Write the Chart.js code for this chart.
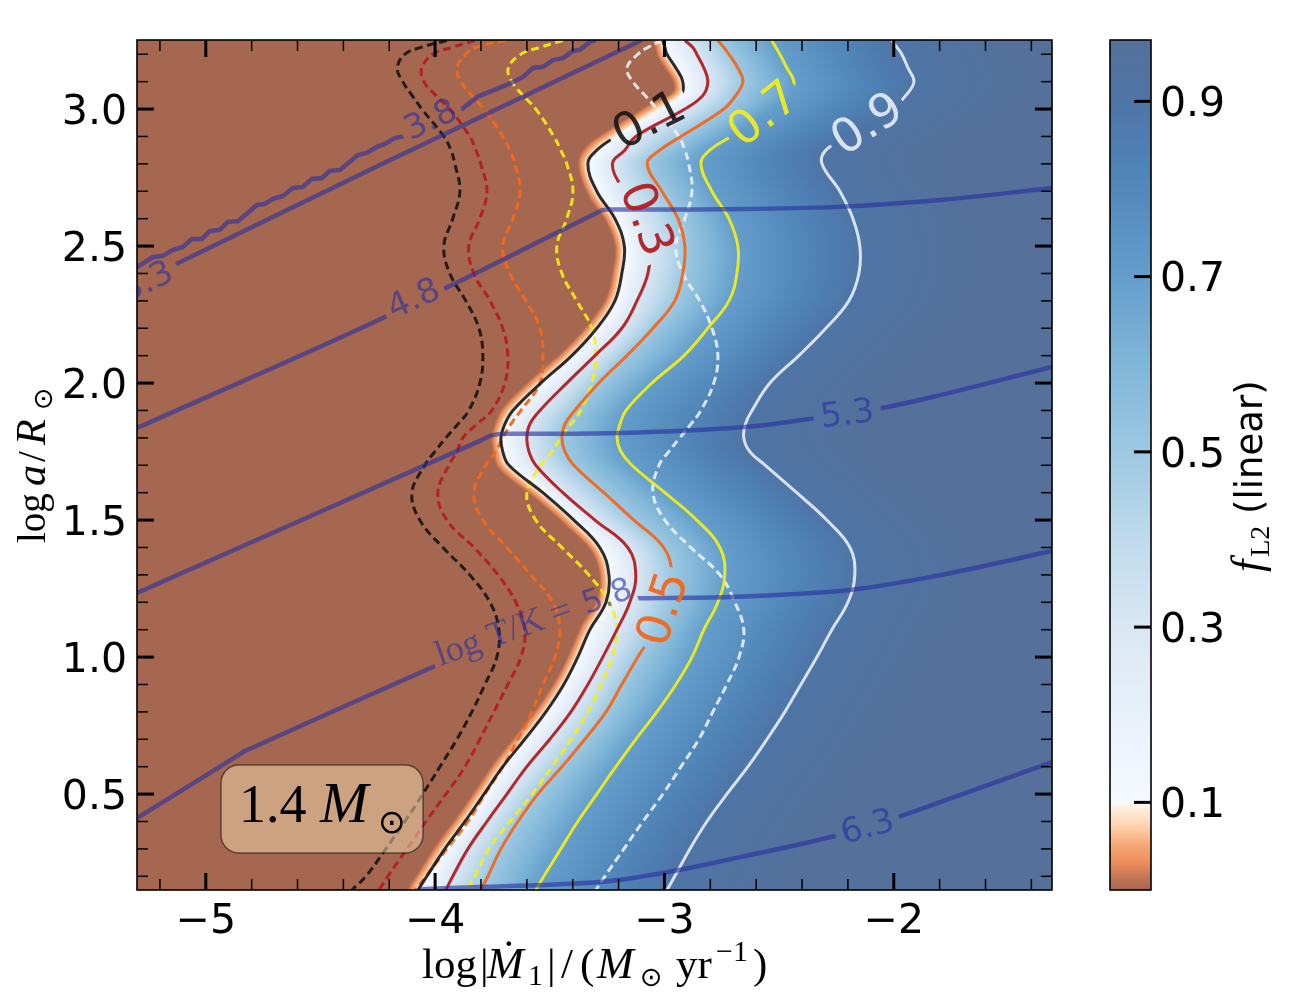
<!DOCTYPE html>
<html><head><meta charset="utf-8">
<script src="https://cdn.jsdelivr.net/npm/chart.js@4"></script>
<style>
html,body{margin:0;padding:0;background:#fff;width:1300px;height:1000px;overflow:hidden}
canvas{position:absolute;top:0;display:block}
</style></head><body>
<canvas id="main" width="1300" height="1000" style="left:0"></canvas>
<canvas id="bar" width="210" height="1000" style="left:1090px"></canvas>
<script>
// ---------- axes ----------
const xTicks=[-5,-4,-3,-2];
const yTicks=[0.5,1.0,1.5,2.0,2.5,3.0];
const xMinor=[-5.2,-4.8,-4.6,-4.4,-4.2,-3.8,-3.6,-3.4,-3.2,-2.8,-2.6,-2.4,-2.2,-1.8,-1.6,-1.4];
const yMinor=[0.2,0.3,0.4,0.6,0.7,0.8,0.9,1.1,1.2,1.3,1.4,1.6,1.7,1.8,1.9,2.1,2.2,2.3,2.4,2.6,2.7,2.8,2.9,3.1,3.2];
const barTicks=[0.1,0.3,0.5,0.7,0.9];

// ---------- shared y levels of the f_L2 contours (log a/Rsun) ----------
const yLevels=[3.25,3.225,3.2,3.15,3.1,3.05,3.0,2.9,2.85,2.8,2.7,2.6,2.5,2.4,2.3,2.2,2.1,2.0,1.9,1.85,1.8,1.75,1.7,1.6,1.5,1.4,1.3,1.2,1.1,1.0,0.9,0.8,0.7,0.6,0.5,0.4,0.3,0.2,0.15];

// ---------- solid contours: log|Mdot| at each y level ----------
const solid01=[-3.007,-2.998,-2.989,-2.950,-2.920,-2.928,-3.020,-3.212,-3.295,-3.334,-3.295,-3.216,-3.175,-3.186,-3.216,-3.295,-3.404,-3.539,-3.661,-3.696,-3.713,-3.705,-3.678,-3.530,-3.395,-3.282,-3.242,-3.255,-3.325,-3.378,-3.439,-3.517,-3.609,-3.705,-3.787,-3.870,-3.958,-4.036,-4.075];
const solid03=[-2.911,-2.876,-2.859,-2.828,-2.811,-2.832,-2.911,-3.125,-3.173,-3.227,-3.177,-3.107,-3.064,-3.072,-3.120,-3.186,-3.303,-3.426,-3.543,-3.587,-3.600,-3.591,-3.561,-3.443,-3.303,-3.160,-3.125,-3.151,-3.207,-3.269,-3.334,-3.408,-3.500,-3.600,-3.687,-3.774,-3.857,-3.923,-3.953];
const solid05=[-2.767,-2.741,-2.719,-2.680,-2.658,-2.689,-2.741,-2.928,-3.020,-3.075,-3.011,-2.941,-2.911,-2.920,-2.955,-3.050,-3.164,-3.286,-3.391,-3.434,-3.447,-3.434,-3.395,-3.264,-3.133,-3.003,-2.968,-2.989,-3.042,-3.116,-3.186,-3.255,-3.347,-3.447,-3.552,-3.639,-3.713,-3.770,-3.801];
const solid07=[-2.532,-2.514,-2.497,-2.466,-2.436,-2.453,-2.532,-2.710,-2.802,-2.841,-2.793,-2.719,-2.680,-2.684,-2.719,-2.811,-2.915,-3.055,-3.168,-3.194,-3.207,-3.190,-3.142,-2.998,-2.859,-2.758,-2.737,-2.767,-2.828,-2.880,-2.950,-3.033,-3.125,-3.212,-3.295,-3.378,-3.452,-3.526,-3.561];
const solid09=[-2.008,-1.986,-1.965,-1.938,-1.912,-1.947,-2.008,-2.200,-2.296,-2.313,-2.235,-2.178,-2.148,-2.152,-2.196,-2.296,-2.414,-2.540,-2.618,-2.647,-2.654,-2.628,-2.560,-2.423,-2.292,-2.191,-2.170,-2.200,-2.270,-2.335,-2.405,-2.475,-2.553,-2.636,-2.728,-2.815,-2.889,-2.955,-2.989];

// ---------- dashed contours ----------
const dash01=[-3.949,-4.062,-4.132,-4.165,-4.141,-4.101,-4.058,-3.962,-3.931,-3.914,-3.892,-3.923,-3.962,-3.936,-3.866,-3.809,-3.792,-3.805,-3.853,-3.901,-3.953,-4.001,-4.045,-4.101,-4.067,-3.966,-3.849,-3.761,-3.722,-3.731,-3.783,-3.840,-3.905,-3.979,-4.054,-4.132,-4.215,-4.302,-4.363];
const dash03=[-3.827,-3.927,-4.010,-4.058,-4.049,-3.997,-3.936,-3.849,-3.822,-3.801,-3.774,-3.805,-3.853,-3.831,-3.761,-3.705,-3.683,-3.696,-3.753,-3.818,-3.879,-3.905,-3.940,-3.988,-3.949,-3.831,-3.726,-3.648,-3.609,-3.626,-3.683,-3.744,-3.805,-3.870,-3.953,-4.040,-4.123,-4.206,-4.245];
const dash05=[-3.692,-3.822,-3.866,-3.905,-3.888,-3.840,-3.787,-3.705,-3.674,-3.652,-3.630,-3.661,-3.705,-3.674,-3.604,-3.543,-3.530,-3.543,-3.626,-3.670,-3.705,-3.735,-3.779,-3.831,-3.792,-3.687,-3.583,-3.487,-3.456,-3.478,-3.530,-3.578,-3.639,-3.705,-3.783,-3.857,-3.949,-4.040,-4.088];
const dash07=[-3.443,-3.543,-3.626,-3.681,-3.665,-3.617,-3.561,-3.482,-3.452,-3.426,-3.399,-3.426,-3.469,-3.447,-3.382,-3.317,-3.299,-3.317,-3.365,-3.408,-3.452,-3.491,-3.539,-3.600,-3.561,-3.447,-3.330,-3.242,-3.207,-3.229,-3.277,-3.334,-3.408,-3.491,-3.578,-3.674,-3.766,-3.827,-3.862];
const dash09=[-3.011,-3.072,-3.116,-3.164,-3.138,-3.085,-3.033,-2.937,-2.911,-2.894,-2.880,-2.911,-2.950,-2.920,-2.846,-2.793,-2.767,-2.785,-2.841,-2.885,-2.933,-2.981,-3.024,-3.050,-2.998,-2.885,-2.758,-2.693,-2.654,-2.675,-2.728,-2.789,-2.850,-2.928,-3.007,-3.094,-3.177,-3.260,-3.299];

// ---------- log T contours ----------
const t38x=[-5.30,-5.230,-5.187,-5.143,-5.100,-5.061,-5.017,-4.982,-4.939,-4.904,-4.860,-4.777,-4.742,-4.707,-4.664,-4.620,-4.577,-4.538,-4.494,-4.459,-4.415,-4.363,-4.337,-4.298,-4.254,-4.219,-4.176,-4.132,-3.883,-3.817,-3.774,-3.687,-3.617,-3.573,-3.530,-3.486,-3.443,-3.399,-3.369,-3.325,-3.299];
const t38y=[2.423,2.460,2.464,2.486,2.497,2.526,2.526,2.555,2.559,2.588,2.591,2.650,2.654,2.672,2.683,2.712,2.716,2.745,2.748,2.774,2.778,2.814,2.832,2.840,2.862,2.873,2.894,2.902,3.000,3.044,3.059,3.088,3.117,3.150,3.154,3.179,3.186,3.212,3.216,3.245,3.252];
const t33x=[-5.30,-4.241,-3.098];
const t33y=[2.365,2.796,3.252];
const t48x=[-5.30,-4.219,-3.30,-3.268,-3.23,-2.758,-2.248,-1.798,-1.310];
const t48y=[1.836,2.241,2.619,2.632,2.633,2.634,2.643,2.668,2.712];
const t53x=[-5.30,-3.80,-3.761,-3.718,-3.68,-3.194,-2.649,-2.344,-2.052,-1.798,-1.310];
const t53y=[1.234,1.791,1.807,1.814,1.815,1.818,1.840,1.872,1.909,1.956,2.059];
const t58x=[-5.30,-4.86,-4.829,-4.79,-4.010,-3.33,-3.295,-3.25,-3.107,-2.715,-2.192,-1.798,-1.310];
const t58y=[0.412,0.641,0.657,0.672,0.964,1.205,1.212,1.214,1.215,1.219,1.245,1.299,1.387];
const t63x=[-4.067,-3.805,-3.282,-3.007,-2.671,-2.257,-1.983,-1.798,-1.310];
const t63y=[0.153,0.161,0.179,0.212,0.270,0.347,0.416,0.471,0.617];

// ---------- colour map of f_L2 ----------
const cmapF=[0,0.012,0.03,0.05,0.07,0.09,0.098,0.1,0.2,0.3,0.4,0.5,0.6,0.7,0.8,0.85,0.9,0.97];
const cmapC=['rgb(165,103,79)','rgb(190,115,85)','rgb(235,140,90)','rgb(245,165,115)','rgb(253,205,165)','rgb(255,235,215)','rgb(255,245,238)','rgb(246,250,255)','rgb(232,240,250)','rgb(218,231,243)','rgb(191,218,236)','rgb(157,201,226)','rgb(128,182,216)','rgb(100,158,203)','rgb(82,136,186)','rgb(78,126,178)','rgb(78,117,166)','rgb(84,112,155)'];
const fLevels=[0.1,0.3,0.5,0.7,0.9];
const fTop=0.97;

// ---------- contour labels: text, data position, angle ----------
const fLabelText=['0.1','0.3','0.5','0.7','0.9'];
const fLabelX=[-3.072,-3.068,-3.016,-2.575,-2.122];
const fLabelY=[2.967,2.602,1.179,2.989,2.953];
const fLabelAngle=[-27,69,-72,-38,-33];
const tLabelText=['3.3','3.8','4.8','5.3','5.8','6.3'];
const tLabelX=[-5.261,-4.023,-4.097,-2.204,-3.565,-2.117];
const tLabelY=[2.376,2.967,2.314,1.894,1.106,0.387];
const tLabelAngle=[-25,-25,-24,-7,-21,-15];

const SERIF='"Liberation Serif"',SANS='"DejaVu Sans"';
const T_COLOR='rgba(40,48,160,0.62)';
const cBlack='rgba(22,20,20,0.9)',cRed='rgba(178,30,34,0.95)',cOrange='rgba(242,104,30,0.97)',cYellow='rgba(245,240,20,0.9)',cWhite='rgba(236,241,248,0.88)';

function pts(xs,ys){return xs.map((x,i)=>({x,y:ys[i]}));}
function contour(label,xs,color,dashed,gap){
  return {type:'line',label,data:pts(xs,yLevels),borderColor:color,borderWidth:3,borderDash:dashed?[8,4.5]:[],
    pointRadius:0,tension:0.4,fill:false,gap};
}
function tLine(label,xs,ys,gap,tension){
  return {type:'line',label,data:pts(xs,ys),borderColor:T_COLOR,borderWidth:4.5,pointRadius:0,tension:tension||0,fill:false,gap,borderCapStyle:'butt'};
}
const datasets=[
  tLine('logT 3.8',t38x,t38y,{i:1,hl:32,hh:24}),
  tLine('logT 3.3',t33x,t33y,{i:0,hl:34,hh:24}),
  tLine('logT 4.8',t48x,t48y,{i:2,hl:32,hh:24},0.4),
  tLine('logT 5.3',t53x,t53y,{i:3,hl:34,hh:24},0.4),
  tLine('logT 5.8',t58x,t58y,{i:4,hl:107,hh:26},0.3),
  tLine('logT 6.3',t63x,t63y,{i:5,hl:33,hh:24},0.4),
  contour('f=0.9',solid09,cWhite,false,{f:4,hl:42,hh:28}),
  contour('f=0.7',solid07,cYellow,false,{f:3,hl:42,hh:28}),
  contour('f=0.5',solid05,cOrange,false,{f:2,hl:42,hh:28}),
  contour('f=0.3',solid03,cRed,false,{f:1,hl:44,hh:28}),
  contour('f=0.1',solid01,cBlack,false,{f:0,hl:43,hh:28}),
  contour('f=0.9 dashed',dash09,cWhite,true),
  contour('f=0.7 dashed',dash07,cYellow,true),
  contour('f=0.5 dashed',dash05,cOrange,true),
  contour('f=0.3 dashed',dash03,cRed,true),
  contour('f=0.1 dashed',dash01,cBlack,true)
];
const fLabelColor=[cBlack,cRed,cOrange,cYellow,cWhite];

// smooth x(y) through a contour, used only to place the colour stops of each pixel row
function xAt(arr,y){
  const n=yLevels.length;
  let i=0;
  while(i<n-2&&y<yLevels[i+1])i++;
  const y0=yLevels[i],y1=yLevels[i+1],h=y1-y0;
  const m=j=>{const a=Math.max(j-1,0),b=Math.min(j+1,n-1);return (arr[b]-arr[a])/(yLevels[b]-yLevels[a]);};
  const t=Math.min(1,Math.max(0,(y-y0)/h)),t2=t*t,t3=t2*t;
  return (2*t3-3*t2+1)*arr[i]+(t3-2*t2+t)*h*m(i)+(-2*t3+3*t2)*arr[i+1]+(t3-t2)*h*m(i+1);
}
function fToPx(f,anch){
  for(let k=0;k<anch.length-1;k++){
    if(f<=anch[k+1][1]){const a=anch[k],b=anch[k+1];return a[0]+(b[0]-a[0])*(f-a[1])/(b[1]-a[1]);}
  }
  return anch[anch.length-1][0];
}
const heatPlugin={id:'heat',beforeDatasetsDraw(c){
  const {ctx,chartArea:A,scales:{x:X,y:Y}}=c;
  const W=A.right-A.left;
  ctx.save();
  for(let py=Math.floor(A.top);py<A.bottom;py++){
    const y=Y.getValueForPixel(py+0.5);
    const bx=X.getPixelForValue(xAt(solid01,y));
    const b1=X.getPixelForValue(xAt(solid01,Y.getValueForPixel(py-5)));
    const b2=X.getPixelForValue(xAt(solid01,Y.getValueForPixel(py+6)));
    const s=(b2-b1)/11;
    const w=10*Math.min(2.2,Math.sqrt(1+s*s));
    const anch=[[bx-w,0],[bx,fLevels[0]]];
    [solid03,solid05,solid07,solid09].forEach((a,k)=>anch.push([X.getPixelForValue(xAt(a,y)),fLevels[k+1]]));
    anch.push([anch[5][0]+115,fTop]);
    const g=ctx.createLinearGradient(A.left,0,A.right,0);
    cmapF.forEach((f,k)=>{g.addColorStop(Math.min(1,Math.max(0,(fToPx(f,anch)-A.left)/W)),cmapC[k]);});
    ctx.fillStyle=g;
    ctx.fillRect(A.left,py,W,1);
  }
  ctx.restore();
}};

function gapOf(c,ds){
  const g=ds.gap;if(!g)return null;
  const X=c.scales.x,Y=c.scales.y;
  if(g.f!==undefined)return {cx:X.getPixelForValue(fLabelX[g.f]),cy:Y.getPixelForValue(fLabelY[g.f]),a:fLabelAngle[g.f],hl:g.hl,hh:g.hh};
  return {cx:X.getPixelForValue(tLabelX[g.i]),cy:Y.getPixelForValue(tLabelY[g.i]),a:tLabelAngle[g.i],hl:g.hl,hh:g.hh};
}
const gapPlugin={id:'gaps',
  beforeDatasetDraw(c,args){
    const g=gapOf(c,c.data.datasets[args.index]);
    c.ctx.save();
    if(!g)return;
    const r=g.a*Math.PI/180,cs=Math.cos(r),sn=Math.sin(r);
    const P=(u,v)=>[g.cx+u*cs-v*sn,g.cy+u*sn+v*cs];
    const ctx=c.ctx;
    ctx.beginPath();ctx.rect(0,0,c.width,c.height);
    const q=[P(-g.hl,-g.hh),P(g.hl,-g.hh),P(g.hl,g.hh),P(-g.hl,g.hh)];
    ctx.moveTo(q[0][0],q[0][1]);q.slice(1).forEach(p=>ctx.lineTo(p[0],p[1]));ctx.closePath();
    ctx.clip('evenodd');
  },
  afterDatasetDraw(c){c.ctx.restore();}
};

// text made of several runs with different fonts; r.x is an offset from the start
function runs(ctx,list,x,y,angle,color){
  ctx.save();ctx.translate(x,y);ctx.rotate(angle*Math.PI/180);
  ctx.textAlign='left';ctx.textBaseline='alphabetic';ctx.fillStyle=color||'#000';
  let cx=0;
  list.forEach(r=>{ctx.font=r.f;if(r.x!==undefined)cx=r.x;cx+=(r.dx||0);ctx.fillText(r.t,cx,r.dy||0);cx+=ctx.measureText(r.t).width;});
  ctx.restore();
}
function midLabel(ctx,text,x,y,angle,size,color){
  ctx.save();ctx.translate(x,y);ctx.rotate(angle*Math.PI/180);
  ctx.font=size+'px '+SANS;ctx.fillStyle=color;ctx.textAlign='center';ctx.textBaseline='alphabetic';
  ctx.fillText(text,0,size*0.36);ctx.restore();
}
const overlayPlugin={id:'overlay',afterDatasetsDraw(c){
  const {ctx,chartArea:A,scales:{x:X,y:Y}}=c;
  // contour labels, clipped to the axes
  ctx.save();ctx.beginPath();ctx.rect(A.left,A.top,A.right-A.left,A.bottom-A.top);ctx.clip();
  fLabelText.forEach((t,i)=>midLabel(ctx,t,X.getPixelForValue(fLabelX[i]),Y.getPixelForValue(fLabelY[i]),fLabelAngle[i],47,fLabelColor[i]));
  tLabelText.forEach((t,i)=>{
    if(t==='5.8'){
      const F='36px '+SERIF;
      runs(ctx,[{t:'log ',f:F},{t:'T',f:F},{t:'/',f:F},{t:'K',f:F},{t:' = ',f:F},{t:'5.8',dx:4,f:'32px '+SANS}],
        X.getPixelForValue(tLabelX[i])-95,Y.getPixelForValue(tLabelY[i])+38,-19.5,T_COLOR);
    } else midLabel(ctx,t,X.getPixelForValue(tLabelX[i]),Y.getPixelForValue(tLabelY[i]),tLabelAngle[i],34,T_COLOR);
  });
  ctx.restore();

  // mass box
  ctx.save();
  ctx.beginPath();ctx.roundRect(221,765,202,88,18);
  ctx.fillStyle='rgba(245,222,179,0.5)';ctx.fill();
  ctx.strokeStyle='rgba(0,0,0,0.5)';ctx.lineWidth=1.5;ctx.stroke();
  ctx.restore();
  runs(ctx,[{t:'1.4',f:'54px '+SERIF},{t:'M',x:81,f:'italic 58px '+SERIF},{t:'⊙',x:139,dy:11,f:'33px '+SANS}],239,822,0,'#000');

  // ticks and frame
  ctx.save();ctx.strokeStyle='#000';
  const seg=(a,b,p,q)=>{ctx.beginPath();ctx.moveTo(a,b);ctx.lineTo(p,q);ctx.stroke();};
  ctx.lineWidth=1.5;
  xMinor.forEach(v=>{const p=X.getPixelForValue(v);seg(p,A.bottom,p,A.bottom-11);seg(p,A.top,p,A.top+11);});
  yMinor.forEach(v=>{const p=Y.getPixelForValue(v);seg(A.left,p,A.left+11,p);seg(A.right,p,A.right-11,p);});
  ctx.lineWidth=3;
  xTicks.forEach(v=>{const p=X.getPixelForValue(v);seg(p,A.bottom,p,A.bottom-17);seg(p,A.top,p,A.top+17);});
  yTicks.forEach(v=>{const p=Y.getPixelForValue(v);seg(A.left,p,A.left+17,p);seg(A.right,p,A.right-17,p);});
  ctx.lineWidth=1.6;ctx.strokeRect(A.left,A.top,A.right-A.left,A.bottom-A.top);
  ctx.restore();

  // axis titles
  const L='43px '+SERIF,I='italic 44px '+SERIF,S='30px '+SERIF,O='27px '+SANS,L2='39px '+SERIF,I2='italic 42px '+SERIF;
  runs(ctx,[{t:'log',x:0,f:L},{t:'|',x:58,f:L},{t:'Ṁ',x:65,f:I},{t:'1',x:106,dy:7,f:S},{t:'|',x:125,f:L},{t:'/',x:139,f:L},{t:'(',x:158,f:L},
    {t:'M',x:175,f:I},{t:'⊙',x:218,dy:8,f:O},{t:'yr',x:254,f:L},{t:'−1',x:294,dy:-17,f:S},{t:')',x:331,f:L}],422,978,0,'#000');
  runs(ctx,[{t:'log',x:2,f:L2},{t:'a',x:59,f:I2},{t:'/',x:83,f:L2},{t:'R',x:100,f:I2},{t:'⊙',x:135,dy:7,f:O}],45,545,-90,'#000');
}};

new Chart(document.getElementById('main'),{
  type:'line',
  data:{datasets},
  plugins:[heatPlugin,gapPlugin,overlayPlugin],
  options:{
    responsive:false,animation:false,devicePixelRatio:1,
    layout:{padding:{top:40,right:248,left:0,bottom:0}},
    plugins:{legend:{display:false},title:{display:false},tooltip:{enabled:false}},
    scales:{
      x:{type:'linear',min:-5.3,max:-1.31,position:'bottom',
        afterBuildTicks(s){s.ticks=xTicks.map(value=>({value}));},
        afterFit(s){s.height=110;},
        grid:{display:false},border:{display:false},
        ticks:{autoSkip:false,maxRotation:0,padding:0,color:'#000',font:{family:'DejaVu Sans',size:41},
          callback:v=>'\u2212'+Math.abs(v)}},
      y:{type:'linear',min:0.15,max:3.252,position:'left',
        afterBuildTicks(s){s.ticks=yTicks.map(value=>({value}));},
        afterFit(s){s.width=137;},
        grid:{display:false},border:{display:false},
        ticks:{autoSkip:false,padding:2,labelOffset:4,color:'#000',font:{family:'DejaVu Sans',size:41},
          callback:v=>v.toFixed(1)}}
    }
  }
});

// ---------- colour bar ----------
const barLabels=['f_L2'];
const barValues=[fTop];
const barDeco={id:'barDeco',afterDatasetsDraw(c){
  const {ctx,chartArea:A,scales:{y:Y}}=c;
  ctx.save();ctx.strokeStyle='#000';ctx.lineWidth=3;
  barTicks.forEach(v=>{const p=Y.getPixelForValue(v);ctx.beginPath();ctx.moveTo(A.right,p);ctx.lineTo(A.right-17,p);ctx.stroke();});
  ctx.lineWidth=1.6;ctx.strokeRect(A.left,A.top,A.right-A.left,A.bottom-A.top);
  ctx.restore();
  runs(ctx,[{t:'f',f:'italic 44px '+SERIF},{t:'L2',dy:7,dx:3,f:'28px '+SERIF},{t:' (linear)',dx:0,f:'37px '+SANS}],172,572,-90,'#000');
}};
new Chart(document.getElementById('bar'),{
  type:'bar',
  data:{labels:barLabels,datasets:[{data:barValues,barPercentage:1,categoryPercentage:1,borderWidth:0,
    backgroundColor(ctx){
      const c=ctx.chart;if(!c.chartArea)return '#fff';
      const Y=c.scales.y,g=c.ctx.createLinearGradient(0,Y.getPixelForValue(0),0,Y.getPixelForValue(fTop));
      cmapF.forEach((f,k)=>g.addColorStop(f/fTop,cmapC[k]));
      return g;
    }}]},
  plugins:[barDeco],
  options:{
    responsive:false,animation:false,devicePixelRatio:1,
    layout:{padding:{top:40,left:20,right:0,bottom:0}},
    plugins:{legend:{display:false},title:{display:false},tooltip:{enabled:false}},
    scales:{
      x:{display:true,grid:{display:false},border:{display:false},ticks:{display:false},afterFit(s){s.height=110;}},
      y:{type:'linear',min:0,max:fTop,position:'right',
        afterBuildTicks(s){s.ticks=barTicks.map(value=>({value}));},
        afterFit(s){s.width=149;},
        grid:{display:false},border:{display:false},
        ticks:{autoSkip:false,padding:1,labelOffset:4,color:'#000',font:{family:'DejaVu Sans',size:41},callback:v=>v.toFixed(1)}}
    }
  }
});
</script>
</body></html>
